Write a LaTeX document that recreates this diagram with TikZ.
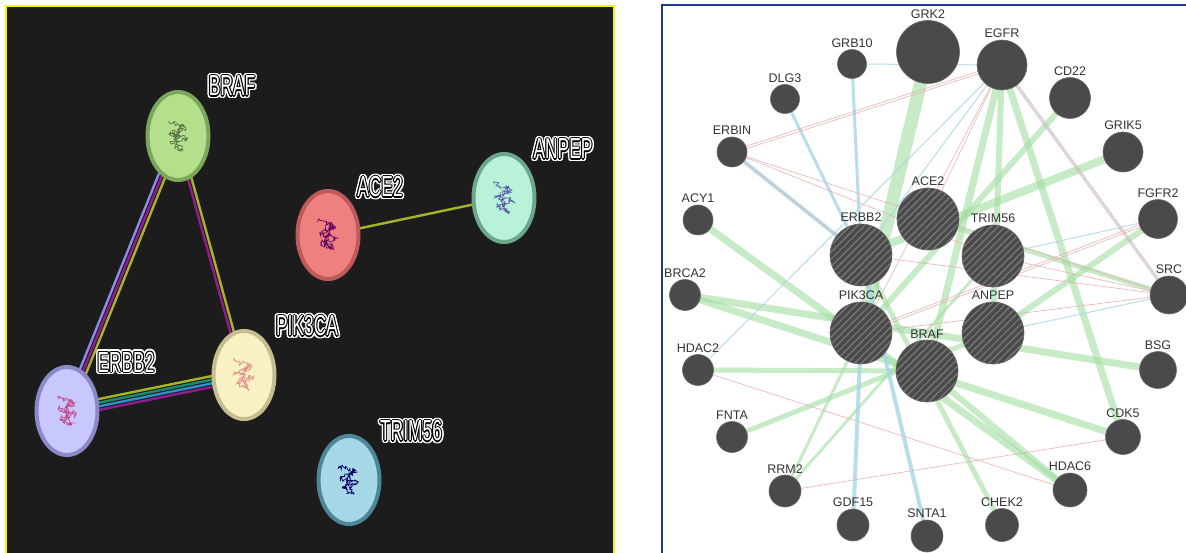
\documentclass[tikz,border=0pt]{standalone}
\usepackage{fontspec}
\setmainfont{Liberation Sans}
\newfontfamily\narrowsans[FakeStretch=0.6]{Liberation Sans}
\usetikzlibrary{calc,shapes.geometric,patterns.meta,decorations.pathmorphing}

% STRING panel colours
\definecolor{stringbg}{HTML}{1C1C1C}
\definecolor{stringframe}{HTML}{F4F400}
\definecolor{brafin}{HTML}{B4E08C}  \definecolor{brafrim}{HTML}{7BA65C}
\definecolor{acein}{HTML}{EE8080}   \definecolor{acerim}{HTML}{BE5A5A}
\definecolor{anpin}{HTML}{B8F2D8}   \definecolor{anprim}{HTML}{6EA88C}
\definecolor{erbin}{HTML}{C8C8FF}   \definecolor{errim}{HTML}{8A8AC8}
\definecolor{pikin}{HTML}{F8F2C4}   \definecolor{pikrim}{HTML}{C6BE8E}
\definecolor{trimin}{HTML}{A6D8E8}  \definecolor{trimrim}{HTML}{4C8898}
\definecolor{evlav}{HTML}{8C8CE6}
\definecolor{evpurple}{HTML}{8E1E8E}
\definecolor{evolive}{HTML}{A8B428}
\definecolor{evteal}{HTML}{1E8A6E}
\definecolor{evblue}{HTML}{2E90CA}
% GeneMANIA panel colours
\definecolor{gmframe}{HTML}{1E3A8A}
\definecolor{genegray}{HTML}{4A4A4A}
\definecolor{generim}{HTML}{6A6A6A}
\definecolor{hatchgray}{HTML}{7A7A7A}
\definecolor{gmtext}{HTML}{333333}
\definecolor{linkgreen}{HTML}{A0DEA0}
\definecolor{linkblue}{HTML}{A8D6E6}
\definecolor{linkpink}{HTML}{E6AAAA}

\pgfdeclarelayer{back}
\pgfdeclarelayer{links}
\pgfsetlayers{back,links,main}

\tikzset{
  prot/.style={ellipse, line width=4pt, minimum width=61pt, minimum height=88pt, inner sep=0pt},
  pname/.style={font=\narrowsans\fontsize{29}{29}\selectfont, inner sep=0pt},
  gene/.style={circle, fill=genegray, draw=generim, line width=0.6pt, inner sep=0pt, minimum size=#1},
  hub/.style={circle, draw=generim, line width=0.6pt, inner sep=0pt, minimum size=62pt,
    preaction={fill=genegray}, pattern={Lines[angle=45,distance=5pt,line width=1.2pt]},
    pattern color=hatchgray},
  every label/.style={font=\fontsize{12.5}{12.5}\selectfont, text=gmtext, inner sep=1pt},
  label distance=0.5pt,
  gl/.style={draw=linkgreen, line width=#1, opacity=0.6},
  bl/.style={draw=linkblue, line width=#1, opacity=0.8},
  pk/.style={draw=linkpink, line width=0.7pt, opacity=0.8},
}

% coloured evidence line, shifted sideways from the centre line
\newcommand\evline[4]{%
  \draw[line width=2.4pt, draw=#4] ($(#1)!#3!90:(#2)$) -- ($(#2)!#3!-90:(#1)$);}

% thin double link
\newcommand\pairlink[3]{%
  \draw[#3] ($(#1)!1.2pt!90:(#2)$) -- ($(#2)!1.2pt!-90:(#1)$);
  \draw[#3] ($(#1)!-1.2pt!90:(#2)$) -- ($(#2)!-1.2pt!-90:(#1)$);}

% protein name: white letters, black rim, white halo
\newcommand\protname[3]{%
  \foreach \a in {0,30,...,330}
    \node[pname, text=white] at ($(#2)+(\a:2.6)$) {#3};
  \foreach \a in {0,45,...,315}
    \node[pname, text=black] at ($(#2)+(\a:1.1)$) {#3};
  \node[pname, text=white] (#1) at (#2) {#3};}

% little structure scribble inside a protein bubble
\newcommand\fold[2]{%
  \draw[#2, line width=0.7pt, decorate,
        decoration={random steps, segment length=1.2pt, amplitude=2.6pt}]
    ($(#1)+(-10,-14)$) -- ($(#1)+(8,-8)$) -- ($(#1)+(-9,-2)$) -- ($(#1)+(9,3)$)
    -- ($(#1)+(-7,8)$) -- ($(#1)+(5,14)$) -- ($(#1)+(-2,4)$) -- ($(#1)+(4,-12)$);}

\begin{document}
\begin{tikzpicture}[x=1pt,y=-1pt]
\pgfmathsetseed{7}
\useasboundingbox (0,0) rectangle (1186,553);

\begin{pgfonlayer}{back}
  \fill[white] (0,0) rectangle (1186,553);
  \fill[stringbg] (6,6) rectangle (614,560);
\end{pgfonlayer}
\draw[stringframe, line width=2.2pt] (6,560) -- (6,6) -- (614,6) -- (614,560);
\draw[gmframe, line width=1.6pt] (662,560) -- (662,5) -- (1190,5);

%%% STRING network
\node[prot, fill=brafin, draw=brafrim] (sBRAF) at (178,136) {};
\node[prot, fill=acein, draw=acerim] (sACE2) at (328,235) {};
\node[prot, fill=anpin, draw=anprim] (sANPEP) at (504,198) {};
\node[prot, fill=erbin, draw=errim] (sERBB2) at (67,411) {};
\node[prot, fill=pikin, draw=pikrim] (sPIK3CA) at (244,375) {};
\node[prot, fill=trimin, draw=trimrim] (sTRIM56) at (349,480) {};

\fold{sBRAF}{black!50!brafin}
\fold{sACE2}{violet!75!black}
\fold{sANPEP}{gray!70!blue}
\fold{sERBB2}{purple!65!erbin}
\fold{sPIK3CA}{purple!40!pikin}
\fold{sTRIM56}{blue!40!black}

\protname{tBRAF}{232,86}{BRAF}
\protname{tACE2}{380,187}{ACE2}
\protname{tANPEP}{563,149}{ANPEP}
\protname{tERBB2}{126,362}{ERBB2}
\protname{tPIK3CA}{307,326}{PIK3CA}
\protname{tTRIM56}{411,431}{TRIM56}

\begin{pgfonlayer}{links}
  \evline{sBRAF}{sERBB2}{-3.6pt}{evlav}
  \evline{sBRAF}{sERBB2}{0pt}{evpurple}
  \evline{sBRAF}{sERBB2}{3.6pt}{evolive}
  \evline{sBRAF}{sPIK3CA}{-1.8pt}{evpurple}
  \evline{sBRAF}{sPIK3CA}{1.8pt}{evolive}
  \evline{sERBB2}{sPIK3CA}{5.4pt}{evolive}
  \evline{sERBB2}{sPIK3CA}{1.8pt}{evteal}
  \evline{sERBB2}{sPIK3CA}{-1.8pt}{evblue}
  \evline{sERBB2}{sPIK3CA}{-5.4pt}{evpurple}
  \evline{sACE2}{sANPEP}{0pt}{evolive}
\end{pgfonlayer}

%%% GeneMANIA network
\node[hub] (ERBB2) at (861,255) [label=above:ERBB2] {};
\node[hub] (ACE2) at (928,219) [label=above:ACE2] {};
\node[hub] (TRIM56) at (993,256) [label=above:TRIM56] {};
\node[hub] (PIK3CA) at (861,333) [label=above:PIK3CA] {};
\node[hub] (ANPEP) at (993,333) [label=above:ANPEP] {};
\node[hub] (BRAF) at (927,371) [label=above:BRAF] {};

\node[gene=63pt] (GRK2) at (928,52) [label=above:GRK2] {};
\node[gene=50pt] (EGFR) at (1002,65) [label=above:EGFR] {};
\node[gene=29pt] (GRB10) at (852,64) [label=above:GRB10] {};
\node[gene=29pt] (DLG3) at (785,99) [label=above:DLG3] {};
\node[gene=41pt] (CD22) at (1070,98) [label=above:CD22] {};
\node[gene=30pt] (ERBIN) at (732,152) [label=above:ERBIN] {};
\node[gene=40pt] (GRIK5) at (1123,152) [label=above:GRIK5] {};
\node[gene=30pt] (ACY1) at (698,220) [label=above:ACY1] {};
\node[gene=39pt] (FGFR2) at (1158,219) [label=above:FGFR2] {};
\node[gene=31pt] (BRCA2) at (685,295) [label=above:BRCA2] {};
\node[gene=38pt] (SRC) at (1169,295) [label=above:SRC] {};
\node[gene=31pt] (HDAC2) at (698,370) [label=above:HDAC2] {};
\node[gene=37pt] (BSG) at (1158,370) [label=above:BSG] {};
\node[gene=31pt] (FNTA) at (732,437) [label=above:FNTA] {};
\node[gene=35pt] (CDK5) at (1123,437) [label=above:CDK5] {};
\node[gene=32pt] (RRM2) at (785,491) [label=above:RRM2] {};
\node[gene=34pt] (HDAC6) at (1070,490) [label=above:HDAC6] {};
\node[gene=32pt] (GDF15) at (853,525) [label=above:GDF15] {};
\node[gene=33pt] (CHEK2) at (1002,525) [label=above:CHEK2] {};
\node[gene=32pt] (SNTA1) at (927,536) [label=above:SNTA1] {};

\begin{pgfonlayer}{links}
  % co-expression / shared pathway
  \draw[gl=13pt] (GRK2.center) -- (PIK3CA.center);
  \draw[gl=7pt] (EGFR.center) -- (BRAF.center);
  \draw[gl=6pt] (EGFR.center) -- (ANPEP.center);
  \draw[gl=7pt] (EGFR.center) -- (CDK5.center);
  \draw[gl=6pt] (CD22.center) -- (PIK3CA.center);
  \draw[gl=8pt] (GRIK5.center) -- (ERBB2.center);
  \draw[gl=6pt] (FGFR2.center) -- (ANPEP.center);
  \draw[gl=7pt] (ACY1.center) -- (HDAC6.center);
  \draw[gl=7pt] (BRCA2.center) -- (BSG.center);
  \draw[gl=7pt] (BRCA2.center) -- (CDK5.center);
  \draw[gl=5pt] (HDAC2.center) -- (BRAF.center);
  \draw[gl=5pt] (FNTA.center) -- (ANPEP.center);
  \draw[gl=3pt] (RRM2.center) -- (PIK3CA.center);
  \draw[gl=3pt] (RRM2.center) -- (TRIM56.center);
  \draw[gl=5pt] (CHEK2.center) -- (ERBB2.center);
  \draw[gl=6pt] (BRAF.center) -- (HDAC6.center);
  \draw[gl=5pt] (ACE2.center) -- (SRC.center);
  % physical interactions
  \draw[bl=4pt] (ERBIN.center) -- (ERBB2.center);
  \draw[bl=3pt] (DLG3.center) -- (ERBB2.center);
  \draw[bl=3pt] (GRB10.center) -- (ERBB2.center);
  \draw[bl=4pt] (GDF15.center) -- (PIK3CA.center);
  \draw[bl=4pt] (SNTA1.center) -- (ERBB2.center);
  \draw[bl=1pt] (GRB10.center) -- (EGFR.center);
  \draw[bl=1pt] (HDAC2.center) -- (EGFR.center);
  \draw[bl=1pt] (EGFR.center) -- (ERBB2.center);
  \draw[bl=1pt] (EGFR.center) -- (SRC.center);
  \draw[bl=1pt] (FGFR2.center) -- (TRIM56.center);
  \draw[bl=1pt] (ANPEP.center) -- (SRC.center);
  % predicted / genetic
  \pairlink{ERBIN.center}{EGFR.center}{pk}
  \pairlink{EGFR.center}{SRC.center}{pk}
  \pairlink{FGFR2.center}{PIK3CA.center}{pk}
  \draw[pk] (ERBIN.center) -- (TRIM56.center);
  \draw[pk] (ERBIN.center) -- (ERBB2.center);
  \draw[pk] (ERBIN.center) -- (SRC.center);
  \draw[pk] (EGFR.center) -- (PIK3CA.center);
  \draw[pk] (EGFR.center) -- (ACE2.center);
  \draw[pk] (RRM2.center) -- (CDK5.center);
  \draw[pk] (HDAC2.center) -- (HDAC6.center);
  \draw[pk] (ERBB2.center) -- (SRC.center);
  \draw[pk] (PIK3CA.center) -- (SRC.center);
  \draw[pk] (TRIM56.center) -- (SRC.center);
\end{pgfonlayer}
\end{tikzpicture}
\end{document}
